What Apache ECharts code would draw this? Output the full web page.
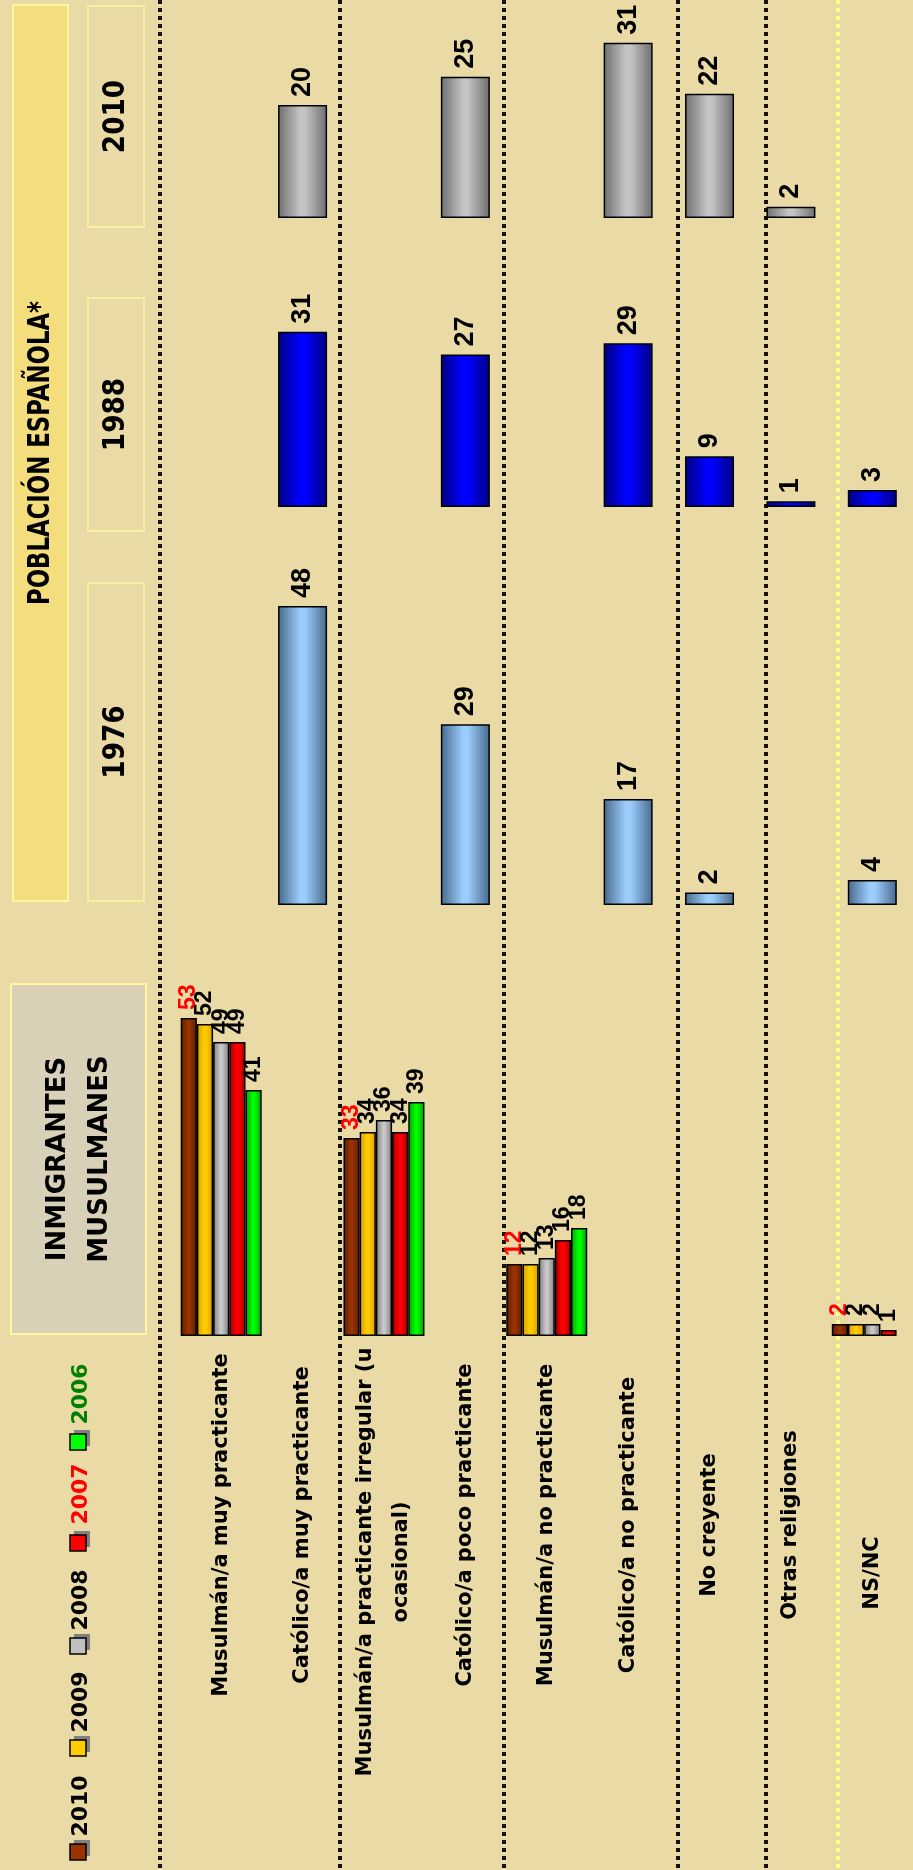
<!DOCTYPE html>
<html>
<head>
<meta charset="utf-8">
<script src="https://cdn.jsdelivr.net/npm/echarts@6/dist/echarts.min.js"></script>
<style>
html, body { margin:0; padding:0; background:#eadba6; }
#grafico { width:913px; height:1870px; }
</style>
</head>
<body>
<div id="grafico"></div>
<script>
// CATEGORIAS (eixo comum a todos os blocos)
var categorias = ['Musulmán/a muy practicante', 'Católico/a muy practicante',
	'Musulmán/a practicante irregular (u\nocasional)', 'Católico/a poco practicante',
	'Musulmán/a no practicante', 'Católico/a no practicante', 'No creyente',
	'Otras religiones', 'NS/NC'];

// INMIGRANTES MUSULMANES, por ano
var anosInm = ['2010', '2009', '2008', '2007', '2006'];
var inm2010 = [53, '-', 33, '-', 12, '-', '-', '-', 2];
var inm2009 = [52, '-', 34, '-', 12, '-', '-', '-', 2];
var inm2008 = [49, '-', 36, '-', 13, '-', '-', '-', 2];
var inm2007 = [49, '-', 34, '-', 16, '-', '-', '-', 1];
var inm2006 = [41, '-', 39, '-', 18, '-', '-', '-', '-'];

// POBLACION ESPAÑOLA
var anosEsp = ['1976', '1988', '2010'];
var esp1976 = ['-', 48, '-', 29, '-', 17, 2, '-', 4];
var esp1988 = ['-', 31, '-', 27, '-', 29, 9, 1, 3];
var esp2010 = ['-', 20, '-', 25, '-', 31, 22, 2, '-'];

var myChart = echarts.init(document.getElementById('grafico'));

// gradiente "cilindro" das barras
var degrade = function(escuro, claro){
	return new echarts.graphic.LinearGradient(0, 0, 1, 0, [
		{offset: 0, color: escuro},
		{offset: 0.45, color: claro},
		{offset: 0.55, color: claro},
		{offset: 1, color: escuro}
	]);
}

var fonteNum = 'Liberation Sans, Arial, sans-serif';
var fonteTxt = 'DejaVu Sans, Verdana, sans-serif';

var rotulo = function(cor, tam){
	return {
		show: true, position: 'top', distance: 8, rotate: 90,
		align: 'left', verticalAlign: 'middle',
		color: cor, fontFamily: fonteNum, fontWeight: 'bold', fontSize: tam
	};
}

// grids: 0 inmigrantes, 1 = 1976, 2 = 1988, 3 = 2010
var grids = [
	{left: 180.5, width: 747, top: 976, height: 360},
	{left: 180.5, width: 747, top: 531.2, height: 373.8},
	{left: 180.5, width: 747, top: 168, height: 339},
	{left: 180.5, width: 747, top: 3.3, height: 214.7}
];
var maximos = [60, 60, 60, 38];

var eixosX = [], eixosY = [];
for (var i = 0; i < grids.length; i++) {
	eixosX.push({
		type: 'category', gridIndex: i, data: categorias,
		axisLine: {show: false}, axisTick: {show: false}, axisLabel: {show: false}
	});
	eixosY.push({
		type: 'value', gridIndex: i, min: 0, max: maximos[i],
		show: false, splitLine: {show: false}
	});
}

var coresInm = [
	['#5c1f00', '#993300'],
	['#d9a000', '#ffcc00'],
	['#7c7c7c', '#c8c8c8'],
	['#a00000', '#ff0000'],
	['#00a000', '#00ff00']
];
var dadosInm = [inm2010, inm2009, inm2008, inm2007, inm2006];

var series = [];
for (var j = 0; j < dadosInm.length; j++) {
	series.push({
		name: anosInm[j], type: 'bar', xAxisIndex: 0, yAxisIndex: 0,
		data: dadosInm[j], barWidth: 16.2, barGap: '0%',
		itemStyle: {color: degrade(coresInm[j][0], coresInm[j][1]), borderColor: '#000', borderWidth: 1.5},
		label: rotulo(j == 0 ? '#ff0000' : '#000', 23)
	});
}

var coresEsp = [
	['#47698c', '#9dcdfd'],
	['#000080', '#0000ff'],
	['#6e6e6e', '#c4c4c4']
];
var dadosEsp = [esp1976, esp1988, esp2010];
for (var k = 0; k < dadosEsp.length; k++) {
	series.push({
		name: anosEsp[k], type: 'bar', xAxisIndex: k + 1, yAxisIndex: k + 1,
		data: dadosEsp[k], barWidth: 49,
		itemStyle: {color: degrade(coresEsp[k][0], coresEsp[k][1]), borderColor: '#000', borderWidth: 1.5},
		label: rotulo('#000', 27)
	});
}

// elementos de moldura: caixas, separadores pontilhados, legenda
var graficos = [];
var texto = function(x, y, txt, fonte, cor, esc, alt){
	return {type: 'text', x: x, y: y, rotation: Math.PI / 2, scaleX: esc || 1, z: 10,
		style: {text: txt, font: fonte, fill: cor, align: 'center', verticalAlign: 'middle', lineHeight: alt || 42}};
}
// caixas do cabeçalho
graficos.push({type: 'rect', shape: {x: 13, y: 5, width: 55, height: 896},
	style: {fill: 'rgba(245,222,110,0.75)', stroke: '#fff7a0', lineWidth: 2}});
graficos.push(texto(41, 453, 'POBLACIÓN ESPAÑOLA*', 'bold 30px ' + fonteTxt, '#000', 0.76));
var caixasAno = [[6, 221, '2010'], [298, 233, '1988'], [583, 318, '1976']];
for (var c = 0; c < caixasAno.length; c++) {
	graficos.push({type: 'rect', shape: {x: 88, y: caixasAno[c][0], width: 56, height: caixasAno[c][1]},
		style: {fill: 'none', stroke: '#f7f0a0', lineWidth: 2}});
	graficos.push(texto(116, caixasAno[c][0] + caixasAno[c][1] / 2, caixasAno[c][2], 'bold 31px ' + fonteTxt, '#000', 0.85));
}
graficos.push({type: 'rect', shape: {x: 11, y: 984, width: 135, height: 350},
	style: {fill: '#d8d1b8', stroke: '#fff7a0', lineWidth: 2}});
graficos.push(texto(79, 1159, 'INMIGRANTES\nMUSULMANES', 'bold 26px ' + fonteTxt, '#000'));

// separadores pontilhados
var separadores = [160, 340, 504, 678, 766];
for (var s = 0; s < separadores.length; s++) {
	graficos.push({type: 'line', shape: {x1: separadores[s], y1: 0, x2: separadores[s], y2: 1870},
		style: {stroke: '#111', lineWidth: 4, lineDash: [4, 4]}});
}
graficos.push({type: 'line', shape: {x1: 838, y1: 0, x2: 838, y2: 1870},
	style: {stroke: '#ffff80', lineWidth: 4, lineDash: [4, 4]}});

// legenda
var legCores = ['#993300', '#ffcc00', '#c0c0c0', '#ff0000', '#00ff00'];
var legTexto = ['#000', '#000', '#000', '#ff0000', '#008000'];
var legY = [1852, 1748, 1646, 1543, 1442];
var legTxtY = [1806, 1702, 1600, 1494, 1394];
for (var l = 0; l < anosInm.length; l++) {
	graficos.push({type: 'rect', shape: {x: 74, y: legY[l] - 12, width: 16, height: 16}, style: {fill: '#808080'}});
	graficos.push({type: 'rect', shape: {x: 70, y: legY[l] - 8, width: 16, height: 16},
		style: {fill: legCores[l], stroke: '#000', lineWidth: 1.5}});
	graficos.push(texto(81, legTxtY[l], anosInm[l], 'bold 22px ' + fonteTxt, legTexto[l]));
}

var option = {
	backgroundColor: 'transparent',
	animation: false,
	grid: grids,
	xAxis: eixosX,
	yAxis: eixosY,
	series: series,
	graphic: graficos
};
// aplico as alterações de layout no chart
myChart.setOption(option);

// rótulos das categorias: posição x tirada do próprio eixo de categorias
var centroRotulo = [1525, 1525, 1562, 1525, 1525, 1525, 1525, 1525, 1573];
var rotCat = [];
for (var q = 0; q < categorias.length; q++) {
	var px = myChart.convertToPixel({xAxisIndex: 0}, q);
	rotCat.push(texto(px, centroRotulo[q], categorias[q], 'bold 21px ' + fonteTxt, '#000', 1, 36));
}
myChart.setOption({graphic: graficos.concat(rotCat)});
</script>
</body>
</html>
